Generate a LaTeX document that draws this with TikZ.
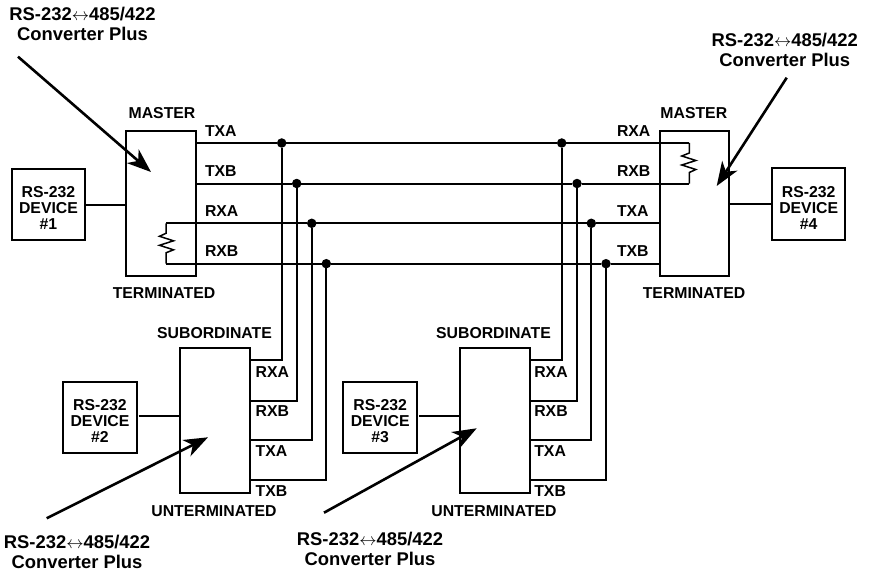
\documentclass[tikz,border=0pt]{standalone}
\usepackage{amsmath,amssymb}
\usepackage{fontspec}
\setmainfont{Liberation Sans}
\usepackage{tikz}
\usetikzlibrary{arrows.meta}
\newcommand{\convname}{RS-232{\fontsize{17}{17}\selectfont$\leftrightarrow$}485/422\\Converter Plus}

\begin{document}
\begin{tikzpicture}[x=1pt,y=-1pt,line width=2pt]
\tikzstyle{every node}+=[inner sep=0pt,outer sep=0pt,font=\bfseries\fontsize{15.8}{16}\selectfont]
\tikzstyle{convbox}=[draw,minimum width=69.5pt,minimum height=145pt]
\tikzstyle{devbox}=[draw,minimum width=73.5pt,minimum height=71pt]
\tikzstyle{devtext}=[align=center]
\tikzstyle{title}=[align=center,font=\bfseries\fontsize{18.4}{20}\selectfont]
\tikzstyle{sig}=[anchor=west]
\tikzstyle{junct}=[circle,fill=black,minimum size=9.5pt]
\tikzstyle{pointer}=[line width=2.6pt,-{Stealth[length=24pt,width=18pt,inset=7pt]}]
\useasboundingbox (0,0) rectangle (869,572);
% converter boxes
\node [convbox] (mastL) at (161.2,203.5) {};
\node [convbox] (mastR) at (694.3,203.5) {};
\node [convbox] (subA) at (214.8,420.2) {};
\node [convbox] (subB) at (494.8,420.2) {};
% rs-232 devices
\node [devbox] (devA) at (48.5,204.5) {};
\node [devtext] (devAtxt) at (48.5,207.7) {RS-232\\DEVICE\\\#1};
\node [devbox] (devB) at (100,417.8) {};
\node [devtext] (devBtxt) at (100,421) {RS-232\\DEVICE\\\#2};
\node [devbox] (devC) at (380.2,417.8) {};
\node [devtext] (devCtxt) at (380.2,421) {RS-232\\DEVICE\\\#3};
\node [devbox] (devD) at (808.7,204) {};
\node [devtext] (devDtxt) at (808.7,207.5) {RS-232\\DEVICE\\\#4};
\draw (devA.east) -- (mastL.west |- devA.east);
\draw (devD.west) -- (mastR.east |- devD.west);
\coordinate (linkB) at (138.7,416.3);
\coordinate (linkC) at (419,416.3);
\draw (linkB) -- (subA.west |- linkB);
\draw (linkC) -- (subB.west |- linkC);
% bus junctions
\node [junct] (tapLa) at (281.7,143) {};
\node [junct] (tapLb) at (296.7,183.5) {};
\node [junct] (tapLc) at (311.7,223.3) {};
\node [junct] (tapLd) at (326.3,263.7) {};
\node [junct] (tapRa) at (561.7,143) {};
\node [junct] (tapRb) at (577,183.5) {};
\node [junct] (tapRc) at (591.3,223.3) {};
\node [junct] (tapRd) at (606,263.7) {};
% terminating resistors
\coordinate (termLa) at (166,223.3);
\coordinate (termLb) at (166,263.7);
\coordinate (termRa) at (689.3,143);
\coordinate (termRb) at (689.3,183.5);
\draw [line width=1.5pt] (termLa) -- ++(0,10) -- ++(-6.5,3) -- ++(14,4.5) -- ++(-14,4.5) -- ++(14,4.5) -- ++(-7.5,3) -- (termLb);
\draw [line width=1.5pt] (termRa) -- ++(0,10) -- ++(-7.5,3) -- ++(14,4.5) -- ++(-14,4.5) -- ++(14,4.5) -- ++(-6.5,3) -- (termRb);
% bus lines
\draw (mastL.east |- tapLa) -- (tapLa) -- (tapRa) -- (termRa);
\draw (mastL.east |- tapLb) -- (tapLb) -- (tapRb) -- (termRb);
\draw (termLa) -- (tapLc) -- (tapRc) -- (mastR.west |- tapRc);
\draw (termLb) -- (tapLd) -- (tapRd) -- (mastR.west |- tapRd);
% subordinate drops
\coordinate (dropAa) at (249.5,360);
\coordinate (dropAb) at (249.5,400.5);
\coordinate (dropAc) at (249.5,440);
\coordinate (dropAd) at (249.5,480);
\coordinate (dropBa) at (529.7,360);
\coordinate (dropBb) at (529.7,400.5);
\coordinate (dropBc) at (529.7,440);
\coordinate (dropBd) at (529.7,480);
\draw (tapLa) |- (dropAa);
\draw (tapLb) |- (dropAb);
\draw (tapLc) |- (dropAc);
\draw (tapLd) |- (dropAd);
\draw (tapRa) |- (dropBa);
\draw (tapRb) |- (dropBb);
\draw (tapRc) |- (dropBc);
\draw (tapRd) |- (dropBd);
% role labels
\node (mastLtop) at (162,112.7) {MASTER};
\node (mastLbot) at (164,293) {TERMINATED};
\node (mastRtop) at (693.8,112.7) {MASTER};
\node (mastRbot) at (694,293) {TERMINATED};
\node (subAtop) at (214.5,333.3) {SUBORDINATE};
\node (subAbot) at (214,510.7) {UNTERMINATED};
\node (subBtop) at (493.5,333.3) {SUBORDINATE};
\node (subBbot) at (494,510.7) {UNTERMINATED};
% signal labels
\node [sig] (sigLa) at (205,130.7) {TXA};
\node [sig] (sigLb) at (205,170.7) {TXB};
\node [sig] (sigLc) at (205,210.7) {RXA};
\node [sig] (sigLd) at (205,250.7) {RXB};
\node [sig] (sigRa) at (617,130.7) {RXA};
\node [sig] (sigRb) at (617,170.7) {RXB};
\node [sig] (sigRc) at (617,210.7) {TXA};
\node [sig] (sigRd) at (617,250.7) {TXB};
\node [sig] (sigAa) at (255.7,371.7) {RXA};
\node [sig] (sigAb) at (255.7,411) {RXB};
\node [sig] (sigAc) at (255.7,450.7) {TXA};
\node [sig] (sigAd) at (255.7,490.7) {TXB};
\node [sig] (sigBa) at (534.3,371.7) {RXA};
\node [sig] (sigBb) at (534.3,411) {RXB};
\node [sig] (sigBc) at (534.3,450.7) {TXA};
\node [sig] (sigBd) at (534.3,490.7) {TXB};
% converter callouts
\node [title] (convA) at (82.5,24) {\convname};
\node [title] (convB) at (77,551.7) {\convname};
\node [title] (convC) at (370,549) {\convname};
\node [title] (convD) at (784.7,50) {\convname};
\coordinate (tailA) at (18,56.7);
\coordinate (tipA) at (151,172);
\coordinate (tailB) at (46.7,518.3);
\coordinate (tipB) at (208,437.3);
\coordinate (tailC) at (324,512.7);
\coordinate (tipC) at (476.7,428.3);
\coordinate (tailD) at (786.7,77.7);
\coordinate (tipD) at (716.7,186);
\draw [pointer] (tailA) -- (tipA);
\draw [pointer] (tailB) -- (tipB);
\draw [pointer] (tailC) -- (tipC);
\draw [pointer] (tailD) -- (tipD);
\end{tikzpicture}
\end{document}
